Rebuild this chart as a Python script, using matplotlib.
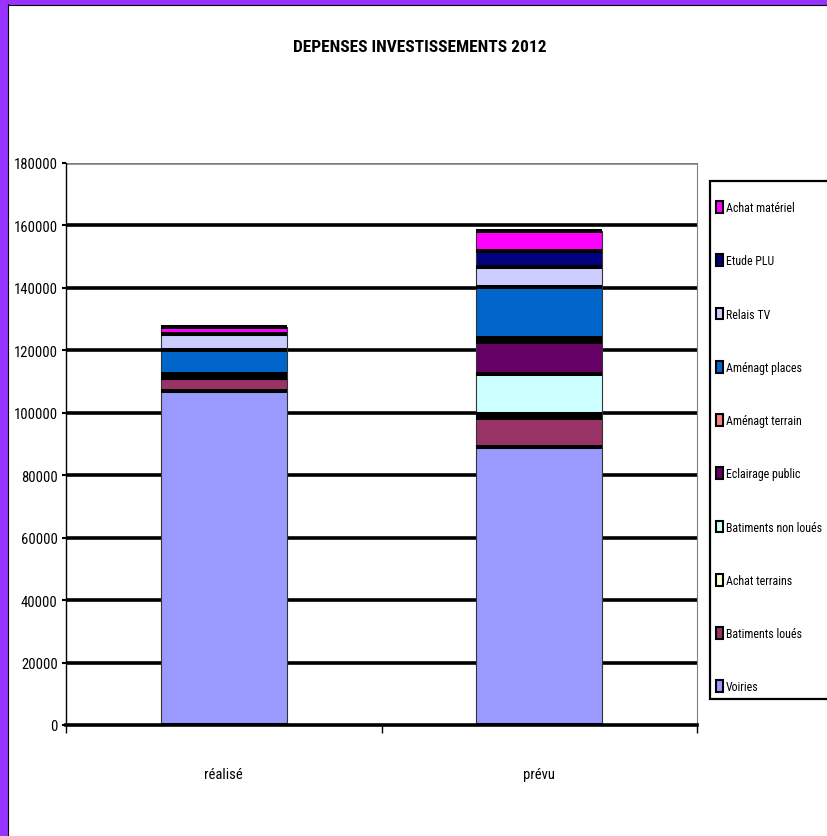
import matplotlib.pyplot as plt
import numpy as np
from matplotlib.patches import Rectangle
from matplotlib.lines import Line2D

plt.rcParams['font.family'] = ['Liberation Sans Narrow', 'Roboto Condensed',
                               'Roboto', 'DejaVu Sans']

categories = ['réalisé', 'prévu']
series = ['Voiries', 'Batiments loués', 'Achat terrains', 'Batiments non loués',
          'Eclairage public', 'Aménagt terrain', 'Aménagt places', 'Relais TV',
          'Etude PLU', 'Achat matériel']
colors = ['#9999FF', '#993366', '#FFFFCC', '#CCFFFF', '#660066', '#FF8080',
          '#0066CC', '#CCCCFF', '#000080', '#FF00FF']

# values: [réalisé, prévu]
voiries = [107000, 89000]
batiments_loues = [4100, 9200]
achat_terrains = [0, 1300]
batiments_non_loues = [0, 12800]
eclairage_public = [1300, 10300]
amenagt_terrain = [0, 1300]
amenagt_places = [7600, 16500]
relais_tv = [5200, 6300]
etude_plu = [0, 5000]
achat_materiel = [2300, 6400]

values = [voiries, batiments_loues, achat_terrains, batiments_non_loues,
          eclairage_public, amenagt_terrain, amenagt_places, relais_tv,
          etude_plu, achat_materiel]
yticks = np.arange(0, 180001, 20000)

fig = plt.figure(figsize=(8.27, 8.37), dpi=100)
ax = fig.add_axes([66/827, 1-726/837, 631/827, 562/837])

x = np.arange(len(categories))
w = 0.4
bottom = np.zeros(len(categories))
handles = []
for name, vals, col in zip(series, values, colors):
    vals = np.array(vals, dtype=float)
    b = ax.bar(x, vals, w, bottom=bottom, color=col, edgecolor='#333333',
               linewidth=0.8, zorder=3, label=name)
    handles.append(b)
    # thick black separators between stacked segments
    ax.hlines(bottom, x - w/2, x + w/2, color='black', linewidth=2.9, zorder=4)
    bottom = bottom + vals
ax.hlines(bottom, x - w/2, x + w/2, color='black', linewidth=2.9, zorder=4)

# gridlines
for yv in yticks[1:-1]:
    ax.axhline(yv, color='black', linewidth=2.6, zorder=1)
ax.axhline(yticks[-1], color='#808080', linewidth=2.6, zorder=1)

ax.set_xlim(-0.5, 1.5)
ax.set_ylim(0, 180000)
ax.set_yticks(yticks)
ax.set_yticklabels([str(v) for v in yticks], fontsize=10.5)
ax.set_xticks(x)
ax.set_xticklabels(categories, fontsize=10.5)
ax.set_xticks([-0.5, 0.5, 1.5], minor=True)
ax.tick_params(axis='x', which='major', length=0, pad=30)
ax.tick_params(axis='x', which='minor', length=6, width=1, direction='out')
ax.tick_params(axis='y', length=3, width=1.5, direction='out', pad=3)

ax.spines['left'].set_linewidth(1)
ax.spines['bottom'].set_linewidth(2.6)
ax.spines['bottom'].set_zorder(5)
ax.spines['right'].set_color('#808080')
ax.spines['right'].set_linewidth(0.8)
ax.spines['top'].set_visible(False)

fig.text(420/827, 1-47/837, 'DEPENSES INVESTISSEMENTS 2012', ha='center',
         va='center', fontsize=12.5, fontweight='bold')

# legend box (runs off the right edge like the reference)
fig.patches.append(Rectangle((710/827, 1-700/837), 130/827, 518/837,
                             transform=fig.transFigure, facecolor='white',
                             edgecolor='black', linewidth=1.6, zorder=1))
leg = fig.legend(handles[::-1], series[::-1], loc='upper left',
                 bbox_to_anchor=(716/827, 1-202/837), bbox_transform=fig.transFigure,
                 fontsize=8.6, frameon=False, borderaxespad=0, borderpad=0,
                 labelspacing=3.37, handlelength=0.55, handleheight=1.15,
                 handletextpad=0.3)
leg.set_zorder(2)
for h in leg.legend_handles:
    h.set_edgecolor('black')
    h.set_linewidth(1.5)

# purple border of the chart (left and top)
fig.patches.append(Rectangle((0, 0), 7/827, 1, transform=fig.transFigure,
                             color='#9933FF', zorder=0))
fig.patches.append(Rectangle((0, 1-5/837), 1, 5/837, transform=fig.transFigure,
                             color='#9933FF', zorder=0))
fig.lines.append(Line2D([7.5/827, 7.5/827], [0, 1-5/837], transform=fig.transFigure,
                        color='black', linewidth=0.8))
fig.lines.append(Line2D([7.5/827, 1], [1-5.5/837, 1-5.5/837], transform=fig.transFigure,
                        color='black', linewidth=0.8))

fig.savefig('out.png', dpi=100)
